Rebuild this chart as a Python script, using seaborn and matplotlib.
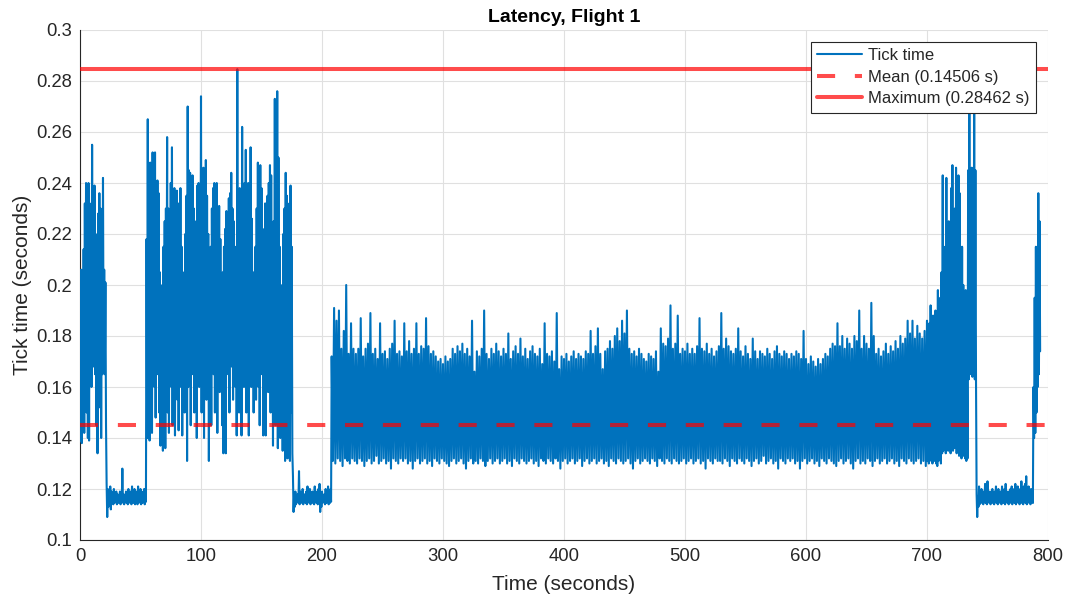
import matplotlib
matplotlib.use("Agg")
import matplotlib.pyplot as plt
import seaborn as sns

# ---------------- data ----------------
MEAN_VALUE = 0.14506
MAX_VALUE = 0.28462

x_ticks = [0, 100, 200, 300, 400, 500, 600, 700, 800]
x_tick_labels = ["0", "100", "200", "300", "400", "500", "600", "700", "800"]
y_ticks = [0.1, 0.12, 0.14, 0.16, 0.18, 0.2, 0.22, 0.24, 0.26, 0.28, 0.3]
y_tick_labels = ["0.1", "0.12", "0.14", "0.16", "0.18", "0.2", "0.22", "0.24", "0.26", "0.28", "0.3"]

# Each segment: start time (s), sample step (s), local peak values, local trough values
seg1_start, seg1_step = 0, 1
seg1_hi = [0.205, 0.206, 0.200, 0.214, 0.232, 0.240, 0.233, 0.240, 0.232, 0.228,
           0.255, 0.230, 0.239, 0.220, 0.219, 0.228, 0.236, 0.230, 0.215, 0.242,
           0.206, 0.201]
seg1_lo = [0.139, 0.138, 0.160, 0.142, 0.168, 0.150, 0.140, 0.139, 0.170, 0.160,
           0.175, 0.168, 0.165, 0.145, 0.134, 0.160, 0.152, 0.140, 0.165, 0.170,
           0.165, 0.145]

seg2_start, seg2_step = 22, 1
seg2_hi = [0.122, 0.120, 0.118, 0.121, 0.119, 0.118, 0.120, 0.117, 0.119, 0.118,
           0.117, 0.119, 0.118, 0.128, 0.118, 0.117, 0.119, 0.118, 0.120, 0.117,
           0.119, 0.121, 0.118, 0.120, 0.117, 0.119, 0.121, 0.118, 0.120, 0.119,
           0.118, 0.120, 0.120]
seg2_lo = [0.109, 0.113, 0.114, 0.112, 0.115, 0.114, 0.1145, 0.115, 0.114, 0.1145,
           0.115, 0.114, 0.1145, 0.115, 0.114, 0.115, 0.1145, 0.114, 0.115, 0.1145,
           0.114, 0.115, 0.1145, 0.114, 0.115, 0.114, 0.1145, 0.115, 0.114, 0.1145,
           0.115, 0.114, 0.115]

seg3_start, seg3_step = 55, 1
seg3_hi = [0.218, 0.265, 0.245, 0.248, 0.235, 0.252, 0.246, 0.252, 0.228, 0.241,
           0.236, 0.205, 0.190, 0.200, 0.215, 0.225, 0.230, 0.258, 0.230, 0.220,
           0.240, 0.254, 0.228, 0.238, 0.225, 0.237, 0.232, 0.222, 0.238, 0.215,
           0.205, 0.195, 0.220, 0.235, 0.270, 0.245, 0.244, 0.240, 0.243, 0.230,
           0.215, 0.225, 0.239, 0.240, 0.236, 0.274, 0.240, 0.246, 0.243, 0.249,
           0.235, 0.220, 0.200, 0.215, 0.230, 0.238, 0.240, 0.232, 0.240, 0.225,
           0.231, 0.218, 0.200, 0.205, 0.215, 0.222, 0.229, 0.228, 0.234, 0.236,
           0.244, 0.230, 0.225, 0.200, 0.215, 0.28462, 0.225, 0.238, 0.226, 0.262,
           0.232, 0.240, 0.253, 0.220, 0.240, 0.218, 0.254, 0.226, 0.205, 0.200,
           0.215, 0.230, 0.248, 0.245, 0.247, 0.238, 0.222, 0.215, 0.232, 0.228,
           0.235, 0.240, 0.247, 0.243, 0.210, 0.225, 0.273, 0.260, 0.276, 0.250,
           0.215, 0.200, 0.195, 0.220, 0.230, 0.244, 0.235, 0.228, 0.232, 0.239,
           0.215]
seg3_lo = [0.140, 0.150, 0.139, 0.165, 0.142, 0.170, 0.160, 0.148, 0.175, 0.165,
           0.150, 0.137, 0.160, 0.135, 0.165, 0.136, 0.170, 0.150, 0.142, 0.175,
           0.160, 0.145, 0.168, 0.141, 0.172, 0.155, 0.143, 0.170, 0.160, 0.141,
           0.175, 0.150, 0.165, 0.131, 0.160, 0.170, 0.145, 0.175, 0.165, 0.150,
           0.172, 0.140, 0.168, 0.160, 0.178, 0.150, 0.165, 0.140, 0.172, 0.155,
           0.170, 0.131, 0.160, 0.145, 0.175, 0.165, 0.150, 0.170, 0.142, 0.168,
           0.158, 0.175, 0.145, 0.134, 0.160, 0.134, 0.170, 0.165, 0.150, 0.175,
           0.168, 0.155, 0.172, 0.160, 0.141, 0.170, 0.150, 0.165, 0.141, 0.172,
           0.160, 0.175, 0.150, 0.166, 0.141, 0.170, 0.160, 0.176, 0.150, 0.168,
           0.155, 0.172, 0.160, 0.145, 0.170, 0.165, 0.141, 0.175, 0.141, 0.168,
           0.158, 0.172, 0.150, 0.165, 0.137, 0.160, 0.145, 0.170, 0.136, 0.155,
           0.140, 0.165, 0.135, 0.150, 0.131, 0.160, 0.132, 0.145, 0.131, 0.150,
           0.134]

seg4_start, seg4_step = 176, 1
seg4_hi = [0.125, 0.118, 0.119, 0.117, 0.118, 0.127, 0.119, 0.118, 0.120, 0.117,
           0.118, 0.119, 0.121, 0.118, 0.120, 0.117, 0.119, 0.118, 0.121, 0.119,
           0.118, 0.120, 0.122, 0.118, 0.119, 0.117, 0.118, 0.120, 0.118, 0.121,
           0.119, 0.120]
seg4_lo = [0.111, 0.113, 0.114, 0.115, 0.1145, 0.114, 0.115, 0.1145, 0.114, 0.115,
           0.1145, 0.114, 0.115, 0.1145, 0.114, 0.115, 0.1145, 0.114, 0.115, 0.1145,
           0.114, 0.115, 0.111, 0.113, 0.1145, 0.115, 0.114, 0.1145, 0.115, 0.114,
           0.1145, 0.115]

seg5_start, seg5_step = 208, 2
seg5_hi = [0.172, 0.191, 0.186, 0.190, 0.175, 0.182, 0.200, 0.173, 0.185, 0.175,
           0.173, 0.175, 0.187, 0.172, 0.175, 0.177, 0.189, 0.173, 0.175, 0.171,
           0.185, 0.173, 0.174, 0.171, 0.175, 0.177, 0.186, 0.173, 0.174, 0.172,
           0.185, 0.174, 0.178, 0.173, 0.175, 0.185, 0.173, 0.176, 0.175, 0.187,
           0.176, 0.173, 0.174, 0.172, 0.170, 0.171, 0.169, 0.172, 0.170, 0.171,
           0.175, 0.173, 0.176, 0.174, 0.177, 0.173, 0.175, 0.172, 0.186, 0.166,
           0.174, 0.172, 0.175, 0.190, 0.173, 0.171, 0.175, 0.173, 0.177, 0.174,
           0.172, 0.175, 0.173, 0.181, 0.171, 0.174, 0.176, 0.173, 0.179, 0.172,
           0.175, 0.171, 0.174, 0.176, 0.173, 0.172, 0.175, 0.169, 0.185, 0.173,
           0.172, 0.174, 0.170, 0.189, 0.167, 0.172, 0.171, 0.173, 0.170, 0.172,
           0.174, 0.171, 0.173, 0.172, 0.171, 0.174, 0.173, 0.182, 0.173, 0.176,
           0.183, 0.173, 0.167, 0.174, 0.175, 0.178, 0.175, 0.180, 0.183, 0.178,
           0.186, 0.181, 0.190, 0.175, 0.173, 0.174, 0.172, 0.175, 0.173, 0.171,
           0.170, 0.173, 0.172, 0.171, 0.174, 0.166, 0.183, 0.177, 0.176, 0.179,
           0.192, 0.175, 0.177, 0.188, 0.173, 0.175, 0.174, 0.177, 0.173, 0.175,
           0.173, 0.176, 0.187, 0.175, 0.174, 0.177, 0.173, 0.175, 0.172, 0.174,
           0.176, 0.189, 0.175, 0.179, 0.176, 0.174, 0.173, 0.175, 0.183, 0.174,
           0.172, 0.176, 0.173, 0.171, 0.179, 0.174, 0.171, 0.174, 0.173, 0.172,
           0.175, 0.173, 0.171, 0.174, 0.176, 0.173, 0.172, 0.174, 0.173, 0.171,
           0.173, 0.172, 0.174, 0.173, 0.171, 0.182, 0.171, 0.169, 0.172, 0.170,
           0.168, 0.171, 0.169, 0.171, 0.173, 0.172, 0.175, 0.177, 0.176, 0.185,
           0.176, 0.180, 0.175, 0.179, 0.177, 0.175, 0.180, 0.178, 0.190, 0.175,
           0.180, 0.177, 0.175, 0.193, 0.180, 0.173, 0.175, 0.172, 0.174, 0.177,
           0.173, 0.176, 0.174, 0.178, 0.175, 0.180, 0.177, 0.179, 0.186, 0.181,
           0.186, 0.179, 0.184, 0.181, 0.179, 0.182]
seg5_lo = [0.131, 0.130, 0.132, 0.131, 0.129, 0.132, 0.131, 0.130, 0.132, 0.131,
           0.130, 0.132, 0.131, 0.129, 0.131, 0.132, 0.130, 0.131, 0.133, 0.130,
           0.131, 0.132, 0.130, 0.131, 0.128, 0.132, 0.131, 0.130, 0.132, 0.131,
           0.132, 0.130, 0.131, 0.128, 0.131, 0.132, 0.130, 0.131, 0.132, 0.130,
           0.131, 0.129, 0.132, 0.131, 0.130, 0.132, 0.131, 0.130, 0.129, 0.131,
           0.132, 0.130, 0.131, 0.132, 0.130, 0.128, 0.131, 0.132, 0.130, 0.131,
           0.130, 0.132, 0.131, 0.129, 0.131, 0.132, 0.130, 0.131, 0.132, 0.130,
           0.131, 0.132, 0.130, 0.131, 0.129, 0.132, 0.131, 0.130, 0.132, 0.131,
           0.130, 0.131, 0.132, 0.130, 0.131, 0.129, 0.132, 0.131, 0.130, 0.132,
           0.131, 0.130, 0.132, 0.131, 0.128, 0.131, 0.132, 0.130, 0.131, 0.132,
           0.130, 0.131, 0.132, 0.129, 0.131, 0.132, 0.130, 0.131, 0.132, 0.130,
           0.131, 0.132, 0.130, 0.131, 0.129, 0.132, 0.131, 0.130, 0.132, 0.131,
           0.130, 0.131, 0.132, 0.130, 0.128, 0.131, 0.132, 0.130, 0.131, 0.132,
           0.131, 0.130, 0.132, 0.131, 0.129, 0.132, 0.131, 0.130, 0.132, 0.131,
           0.130, 0.132, 0.131, 0.130, 0.131, 0.132, 0.130, 0.131, 0.132, 0.130,
           0.131, 0.132, 0.130, 0.131, 0.128, 0.132, 0.131, 0.130, 0.132, 0.131,
           0.131, 0.130, 0.132, 0.131, 0.129, 0.132, 0.131, 0.130, 0.132, 0.131,
           0.130, 0.132, 0.131, 0.129, 0.131, 0.132, 0.130, 0.131, 0.133, 0.130,
           0.131, 0.132, 0.130, 0.131, 0.128, 0.132, 0.131, 0.130, 0.132, 0.131,
           0.132, 0.130, 0.131, 0.128, 0.131, 0.132, 0.130, 0.131, 0.132, 0.130,
           0.131, 0.129, 0.132, 0.131, 0.130, 0.132, 0.131, 0.130, 0.129, 0.131,
           0.132, 0.130, 0.131, 0.132, 0.130, 0.128, 0.131, 0.132, 0.130, 0.131,
           0.130, 0.132, 0.131, 0.129, 0.131, 0.132, 0.130, 0.131, 0.132, 0.130,
           0.131, 0.132, 0.130, 0.131, 0.129, 0.132, 0.131, 0.130, 0.132, 0.131,
           0.130, 0.131, 0.132, 0.130, 0.131, 0.129]

seg6_start, seg6_step = 700, 1
seg6_hi = [0.186, 0.180, 0.185, 0.192, 0.183, 0.188, 0.182, 0.190, 0.185, 0.198,
           0.188, 0.195, 0.205, 0.243, 0.200, 0.215, 0.242, 0.195, 0.225, 0.210,
           0.238, 0.247, 0.205, 0.230, 0.246, 0.220, 0.243, 0.236, 0.205, 0.215,
           0.200, 0.190, 0.198, 0.180, 0.245, 0.278, 0.245, 0.246, 0.244, 0.275,
           0.245]
seg6_lo = [0.131, 0.130, 0.132, 0.131, 0.130, 0.132, 0.131, 0.130, 0.129, 0.131,
           0.132, 0.130, 0.134, 0.135, 0.138, 0.134, 0.140, 0.135, 0.137, 0.134,
           0.139, 0.135, 0.136, 0.138, 0.134, 0.137, 0.133, 0.136, 0.132, 0.135,
           0.133, 0.132, 0.131, 0.132, 0.163, 0.165, 0.170, 0.164, 0.168, 0.163,
           0.163]

seg7_start, seg7_step = 741, 1
seg7_hi = [0.118, 0.117, 0.121, 0.118, 0.120, 0.117, 0.119, 0.122, 0.118, 0.123,
           0.117, 0.119, 0.118, 0.120, 0.117, 0.119, 0.121, 0.118, 0.120, 0.117,
           0.119, 0.121, 0.118, 0.120, 0.122, 0.118, 0.119, 0.117, 0.120, 0.121,
           0.118, 0.120, 0.122, 0.119, 0.121, 0.118, 0.120, 0.123, 0.119, 0.121,
           0.122, 0.125, 0.119, 0.121, 0.118, 0.120, 0.119]
seg7_lo = [0.109, 0.113, 0.114, 0.115, 0.1145, 0.114, 0.115, 0.1145, 0.114, 0.115,
           0.1145, 0.114, 0.115, 0.1145, 0.114, 0.115, 0.1145, 0.114, 0.115, 0.1145,
           0.114, 0.115, 0.1145, 0.114, 0.115, 0.1145, 0.114, 0.115, 0.1145, 0.114,
           0.115, 0.1145, 0.114, 0.115, 0.1145, 0.114, 0.115, 0.1145, 0.114, 0.115,
           0.1145, 0.114, 0.115, 0.1145, 0.114, 0.115, 0.1145]

seg8_start, seg8_step = 788, 1
seg8_hi = [0.160, 0.195, 0.215, 0.213, 0.236, 0.225]
seg8_lo = [0.140, 0.142, 0.150, 0.160, 0.165, 0.174]

segments = [
    (seg1_start, seg1_step, seg1_hi, seg1_lo),
    (seg2_start, seg2_step, seg2_hi, seg2_lo),
    (seg3_start, seg3_step, seg3_hi, seg3_lo),
    (seg4_start, seg4_step, seg4_hi, seg4_lo),
    (seg5_start, seg5_step, seg5_hi, seg5_lo),
    (seg6_start, seg6_step, seg6_hi, seg6_lo),
    (seg7_start, seg7_step, seg7_hi, seg7_lo),
    (seg8_start, seg8_step, seg8_hi, seg8_lo),
]

times, ticks = [], []
for start, step, his, los in segments:
    for i, (h, l) in enumerate(zip(his, los)):
        t0 = start + i * step
        times += [t0, t0 + step / 2]
        ticks += [h, l]

# ---------------- style ----------------
sns.set_style("white")
plt.rcParams["font.family"] = ["Liberation Sans", "DejaVu Sans"]
DARK = "#262626"

fig = plt.figure(figsize=(10.68, 6), dpi=100)
ax = fig.add_axes([80 / 1068, 60 / 600, 968 / 1068, 510 / 600])

sns.lineplot(x=times, y=ticks, ax=ax, color="#0072BD", linewidth=1.5,
             sort=False, estimator=None, label="Tick time", zorder=3)
ax.axhline(MEAN_VALUE, color="red", alpha=0.7, linewidth=2.9,
           linestyle=(0, (4.5, 4.9)), label=f"Mean ({MEAN_VALUE:.5f} s)", zorder=4)
ax.axhline(MAX_VALUE, color="red", alpha=0.7, linewidth=2.9,
           label=f"Maximum ({MAX_VALUE:.5f} s)", zorder=4)

ax.set_xlim(0, 800)
ax.set_ylim(0.1, 0.3)
ax.set_xticks(x_ticks)
ax.set_xticklabels(x_tick_labels)
ax.set_yticks(y_ticks)
ax.set_yticklabels(y_tick_labels)

ax.grid(True, color="#E0E0E0", linewidth=0.8, zorder=0)
ax.set_axisbelow(True)
for side in ["top", "right"]:
    ax.spines[side].set_visible(False)
for side in ["left", "bottom"]:
    ax.spines[side].set_color(DARK)
    ax.spines[side].set_linewidth(0.8)
ax.tick_params(axis="both", direction="in", length=7, width=0.8, color=DARK,
               labelcolor=DARK, labelsize=13.3)
ax.tick_params(axis="y", pad=5.5)
ax.tick_params(axis="x", pad=6)

ax.set_xlabel("Time (seconds)", fontsize=15, color=DARK, labelpad=7)
ax.set_ylabel("Tick time (seconds)", fontsize=15, color=DARK, labelpad=3)
ax.set_title("Latency, Flight 1", fontsize=14, fontweight="bold", color="black", pad=6)

leg = ax.legend(loc="upper right", fontsize=12, frameon=True, fancybox=False,
                framealpha=1, edgecolor=DARK, handlelength=2.7, labelspacing=0.38,
                borderpad=0.4, handletextpad=0.35, borderaxespad=0.7)
leg.get_frame().set_linewidth(0.8)
leg.set_zorder(10)

fig.savefig("out.png", dpi=100)
